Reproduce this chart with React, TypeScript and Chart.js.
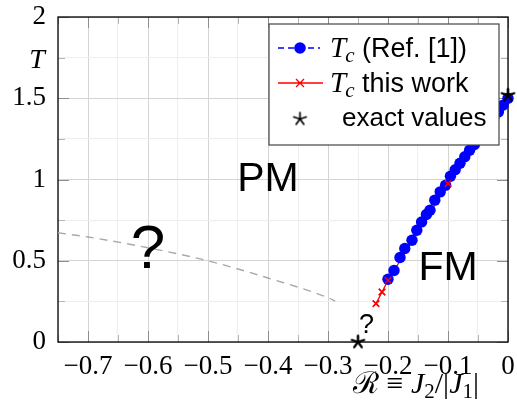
import React, { useEffect, useRef } from 'react';
import { Chart, registerables } from 'chart.js';

Chart.register(...registerables);

// Tc from Ref. [1] (blue, dashed with circles)
const refR = [-0.2, -0.19, -0.18, -0.172, -0.16, -0.152, -0.144, -0.136, -0.13, -0.122, -0.113, -0.104, -0.096, -0.088, -0.08, -0.072, -0.064, -0.056, -0.048, -0.04, -0.032, -0.024, -0.016, -0.008, 0.0];
const refTc = [0.386, 0.44, 0.52, 0.575, 0.626, 0.688, 0.739, 0.785, 0.811, 0.873, 0.924, 0.965, 1.02, 1.06, 1.1, 1.14, 1.18, 1.215, 1.25, 1.29, 1.33, 1.375, 1.416, 1.458, 1.5];

// Tc this work (red, solid with crosses)
const workR = [-0.22, -0.21, -0.2, -0.1];
const workTc = [0.236, 0.308, 0.38, 0.975];

// exact values (black stars)
const exactR = [-0.25, 0];
const exactT = [0, 1.5187];

// uncertain boundary (gray dashed)
const guessR = [-0.75, -0.7, -0.6, -0.5, -0.45, -0.4, -0.3, -0.288];
const guessT = [0.672, 0.646, 0.58, 0.5, 0.449, 0.394, 0.273, 0.252];

// axes
const xMajorTicks = [-0.7, -0.6, -0.5, -0.4, -0.3, -0.2, -0.1, 0];
const xMinorTicks = [-0.75, -0.65, -0.55, -0.45, -0.35, -0.25, -0.15, -0.05];
const xTickLabels = ['\u22120.7', '\u22120.6', '\u22120.5', '\u22120.4', '\u22120.3', '\u22120.2', '\u22120.1', '0'];
const yMajorTicks = [0, 0.5, 1, 1.5, 2];
const yMinorTicks = [0.25, 0.75, 1.25, 1.75];
const yTickLabels = ['0', '0.5', '1', '1.5', '2'];

// text annotations [text, R, T, size]
const annotations: [string, number, number, number][] = [
  ['PM', -0.4, 1.0, 41],
  ['FM', -0.1, 0.45, 41],
  ['?', -0.6, 0.56, 62],
  ['?', -0.236, 0.1, 27],
];

const SERIF = '"Liberation Serif", "DejaVu Serif", serif';
const SANS = '"Liberation Sans", "DejaVu Sans", sans-serif';

const idx = (arr: number[], v: number) => arr.findIndex((t) => Math.abs(t - v) < 1e-9);

function makeStar(r: number, lw: number): HTMLCanvasElement {
  const c = document.createElement('canvas');
  const s = Math.ceil(2 * r + lw + 2);
  c.width = s;
  c.height = s;
  const g = c.getContext('2d')!;
  g.strokeStyle = '#000';
  g.lineWidth = lw;
  g.lineCap = 'round';
  const cx = s / 2, cy = s / 2;
  g.beginPath();
  for (let k = 0; k < 5; k++) {
    const a = -Math.PI / 2 + (k * 2 * Math.PI) / 5;
    g.moveTo(cx, cy);
    g.lineTo(cx + r * Math.cos(a), cy + r * Math.sin(a));
  }
  g.stroke();
  return c;
}

function drawTc(ctx: CanvasRenderingContext2D, x: number, base: number): number {
  ctx.font = `italic 29px ${SERIF}`;
  ctx.fillText('T', x, base);
  let w = ctx.measureText('T').width;
  ctx.font = `italic 21px ${SERIF}`;
  ctx.fillText('c', x + w - 1, base + 5);
  w += ctx.measureText('c').width - 1;
  return w;
}

export default function App() {
  const ref = useRef<HTMLCanvasElement>(null);

  useEffect(() => {
    if (!ref.current) return;
    const star = makeStar(6.5, 1.7);
    const starLegend = makeStar(6.5, 1.7);

    const overlay = {
      id: 'overlay',
      beforeDatasetsDraw(chart: any) {
        const { ctx, chartArea: a, scales } = chart;
        const xs = scales.x, ys = scales.y;
        ctx.save();
        ctx.lineWidth = 1;
        const allX = [...xMajorTicks, ...xMinorTicks];
        for (const v of allX) {
          const major = idx(xMajorTicks, v) >= 0;
          const len = major ? 11 : 7;
          ctx.strokeStyle = major ? '#8f8f8f' : '#b5b5b5';
          const px = Math.round(xs.getPixelForValue(v)) + 0.5;
          ctx.beginPath();
          ctx.moveTo(px, a.bottom);
          ctx.lineTo(px, a.bottom - len);
          ctx.moveTo(px, a.top);
          ctx.lineTo(px, a.top + len);
          ctx.stroke();
        }
        const allY = [...yMajorTicks, ...yMinorTicks];
        for (const v of allY) {
          const major = idx(yMajorTicks, v) >= 0;
          const len = major ? 11 : 7;
          ctx.strokeStyle = major ? '#8f8f8f' : '#b5b5b5';
          const py = Math.round(ys.getPixelForValue(v)) + 0.5;
          ctx.beginPath();
          ctx.moveTo(a.left, py);
          ctx.lineTo(a.left + len, py);
          ctx.moveTo(a.right, py);
          ctx.lineTo(a.right - len, py);
          ctx.stroke();
        }
        ctx.strokeStyle = '#000';
        ctx.lineWidth = 1.3;
        ctx.strokeRect(a.left, a.top, a.right - a.left, a.bottom - a.top);
        ctx.restore();
      },
      afterDatasetsDraw(chart: any) {
        const { ctx } = chart;
        // red markers on top of the blue ones
        const meta = chart.getDatasetMeta(2);
        meta.data.forEach((el: any) => el.draw(ctx));
        const smeta = chart.getDatasetMeta(0);
        smeta.data.forEach((el: any) => el.draw(ctx));
      },
      afterDraw(chart: any) {
        const { ctx, chartArea: a, scales } = chart;
        const xs = scales.x, ys = scales.y;
        ctx.save();
        ctx.fillStyle = '#000';
        // annotations
        ctx.textAlign = 'center';
        ctx.textBaseline = 'middle';
        for (const [t, r, T, size] of annotations) {
          ctx.font = `${size}px ${SANS}`;
          ctx.fillText(t, xs.getPixelForValue(r), ys.getPixelForValue(T));
        }
        // y title
        ctx.textAlign = 'center';
        ctx.textBaseline = 'alphabetic';
        ctx.font = `italic 28px ${SERIF}`;
        ctx.fillText('T', 37, 68);
        // x title: R ≡ J2/|J1|
        const pieces: [string, string, number][] = [
          ['\u211B', `30px ${SERIF}`, 0],
          [' \u2261 ', `30px ${SERIF}`, 0],
          ['J', `italic 30px ${SERIF}`, 0],
          ['2', `21px ${SERIF}`, 5],
          ['/|', `30px ${SERIF}`, 0],
          ['J', `italic 30px ${SERIF}`, 0],
          ['1', `21px ${SERIF}`, 5],
          ['|', `30px ${SERIF}`, 0],
        ];
        ctx.textAlign = 'left';
        let total = 0;
        for (const [s, f] of pieces) {
          ctx.font = f;
          total += ctx.measureText(s).width;
        }
        let x = 416 - total / 2;
        const base = 393;
        for (const [s, f, dy] of pieces) {
          ctx.font = f;
          ctx.fillText(s, x, base + dy);
          x += ctx.measureText(s).width;
        }
        // legend
        const lx = a.right - 239, ly = a.top + 7, lw = 230, lh = 121;
        ctx.fillStyle = '#fff';
        ctx.fillRect(lx, ly, lw, lh);
        ctx.strokeStyle = '#444';
        ctx.lineWidth = 1.2;
        ctx.strokeRect(lx, ly, lw, lh);
        const symX = lx + 31;
        const rows = [ly + 24, ly + 59, ly + 95];
        // row 1
        ctx.strokeStyle = '#0000ff';
        ctx.lineWidth = 1.3;
        ctx.setLineDash([6, 4]);
        ctx.beginPath();
        ctx.moveTo(symX - 22, rows[0]);
        ctx.lineTo(symX + 20, rows[0]);
        ctx.stroke();
        ctx.setLineDash([]);
        ctx.fillStyle = '#0000ff';
        ctx.beginPath();
        ctx.arc(symX, rows[0], 5.8, 0, Math.PI * 2);
        ctx.fill();
        // row 2
        ctx.strokeStyle = '#ff0000';
        ctx.lineWidth = 1.3;
        ctx.beginPath();
        ctx.moveTo(symX - 22, rows[1]);
        ctx.lineTo(symX + 23, rows[1]);
        ctx.moveTo(symX - 4, rows[1] - 4);
        ctx.lineTo(symX + 4, rows[1] + 4);
        ctx.moveTo(symX - 4, rows[1] + 4);
        ctx.lineTo(symX + 4, rows[1] - 4);
        ctx.stroke();
        // row 3
        ctx.drawImage(starLegend, symX - starLegend.width / 2, rows[2] - starLegend.height / 2);
        // texts
        ctx.fillStyle = '#000';
        ctx.textAlign = 'left';
        ctx.textBaseline = 'alphabetic';
        const tx = lx + 61;
        let w = drawTc(ctx, tx, rows[0] + 9);
        ctx.font = `27px ${SANS}`;
        ctx.fillText(' (Ref. [1])', tx + w, rows[0] + 9);
        w = drawTc(ctx, tx, rows[1] + 9);
        ctx.font = `27px ${SANS}`;
        ctx.fillText(' this work', tx + w, rows[1] + 9);
        ctx.font = `26px ${SANS}`;
        ctx.fillText('exact values', lx + 73, rows[2] + 7);
        ctx.restore();
      },
    };

    const chart = new Chart(ref.current, {
      type: 'scatter',
      data: {
        datasets: [
          {
            label: 'exact values',
            data: exactR.map((r, i) => ({ x: r, y: exactT[i] })),
            showLine: false,
            pointStyle: star as any,
            pointRadius: 6.5,
            clip: false as any,
          },
          {
            label: 'Tc (Ref. [1])',
            data: refR.map((r, i) => ({ x: r, y: refTc[i] })),
            showLine: true,
            borderColor: '#0000ff',
            borderWidth: 1.3,
            borderDash: [6, 4],
            pointRadius: 5.7,
            pointBackgroundColor: '#0000ff',
            pointBorderColor: '#0000ff',
            pointBorderWidth: 0,
            clip: false as any,
          },
          {
            label: 'Tc this work',
            data: workR.map((r, i) => ({ x: r, y: workTc[i] })),
            showLine: true,
            borderColor: '#ff0000',
            borderWidth: 1.3,
            pointStyle: 'crossRot',
            pointRadius: 4.5,
            pointBorderColor: '#ff0000',
            pointBorderWidth: 1.4,
            clip: false as any,
          },
          {
            label: 'boundary',
            data: guessR.map((r, i) => ({ x: r, y: guessT[i] })),
            showLine: true,
            borderColor: '#a9a9a9',
            borderWidth: 1.4,
            borderDash: [8, 6],
            pointRadius: 0,
            cubicInterpolationMode: 'monotone',
          },
        ],
      },
      options: {
        animation: false,
        responsive: true,
        maintainAspectRatio: false,
        layout: { padding: { top: 17, right: 9, left: 0, bottom: 0 } },
        plugins: { legend: { display: false }, tooltip: { enabled: false } },
        events: [],
        scales: {
          x: {
            type: 'linear',
            min: -0.75,
            max: 0,
            afterBuildTicks: (s: any) => {
              s.ticks = [...xMajorTicks, ...xMinorTicks].sort((p, q) => p - q).map((v) => ({ value: v }));
            },
            afterFit: (s: any) => {
              s.height = 58;
              s.paddingLeft = 0;
              s.paddingRight = 0;
              s.paddingTop = 0;
              s.paddingBottom = 0;
            },
            ticks: {
              autoSkip: false,
              maxRotation: 0,
              minRotation: 0,
              padding: 9,
              color: '#000',
              font: { family: SERIF, size: 27 },
              callback: (v: any) => {
                const i = idx(xMajorTicks, Number(v));
                return i >= 0 ? xTickLabels[i] : '';
              },
            },
            grid: {
              drawTicks: false,
              color: (c: any) => (c.tick && idx(xMajorTicks, c.tick.value) >= 0 ? '#d4d4d4' : '#eeeeee'),
              lineWidth: 1,
            },
            border: { display: false },
          },
          y: {
            type: 'linear',
            min: 0,
            max: 2,
            afterBuildTicks: (s: any) => {
              s.ticks = [...yMajorTicks, ...yMinorTicks].sort((p, q) => p - q).map((v) => ({ value: v }));
            },
            afterFit: (s: any) => {
              s.width = 58;
              s.paddingLeft = 0;
              s.paddingRight = 0;
              s.paddingTop = 0;
              s.paddingBottom = 0;
            },
            ticks: {
              autoSkip: false,
              padding: 12,
              color: '#000',
              font: { family: SERIF, size: 27 },
              callback: (v: any) => {
                const i = idx(yMajorTicks, Number(v));
                return i >= 0 ? yTickLabels[i] : '';
              },
            },
            grid: {
              drawTicks: false,
              color: (c: any) => (c.tick && idx(yMajorTicks, c.tick.value) >= 0 ? '#d4d4d4' : '#eeeeee'),
              lineWidth: 1,
            },
            border: { display: false },
          },
        },
      },
      plugins: [overlay],
    });
    return () => chart.destroy();
  }, []);

  return (
    <div style={{ position: 'fixed', left: 0, top: 0, width: 517, height: 400, background: '#fff' }}>
      <canvas ref={ref} />
    </div>
  );
}
